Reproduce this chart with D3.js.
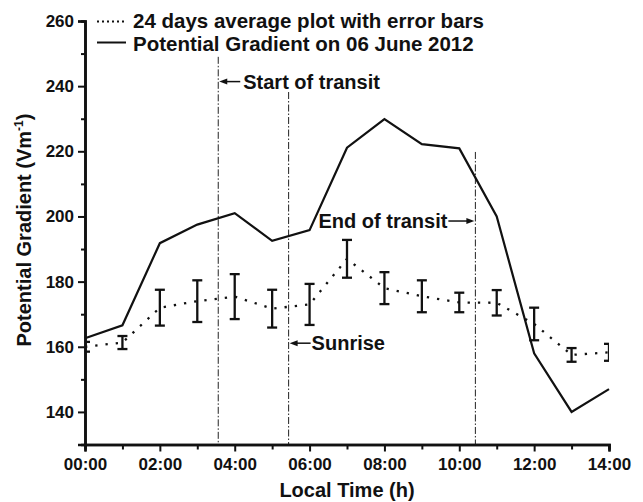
<!DOCTYPE html>
<html>
<head>
<meta charset="utf-8">
<script src="https://cdn.jsdelivr.net/npm/d3@7"></script>
<style>
  body { margin: 0; background: #fff; }
  svg { display: block; font-family: "Liberation Sans", Arial, sans-serif; font-weight: bold; }
</style>
</head>
<body>
<svg id="chart" width="643" height="502"></svg>
<script>
// ---- data ----
const hours = [0,1,2,3,4,5,6,7,8,9,10,11,12,13,14];
const pgJune6 = [162.6,166.6,191.8,197.5,201,192.5,195.8,221.1,229.9,222.2,220.9,200,158,140,147];
const avg24 = [160,161.3,172,174,175.4,171.7,173,187,178,175.5,173.6,173.5,167,157.5,158.3];
const err24 = [1.5,2,5.5,6.4,6.9,5.8,6.3,5.8,4.9,4.9,3,3.9,5,2.1,2.6];
const xTickLabels = ["00:00","02:00","04:00","06:00","08:00","10:00","12:00","14:00"];
const yTicks = [140,160,180,200,220,240,260];
const legendLabels = ["24 days average plot with error bars","Potential Gradient on 06 June 2012"];
const markerNames = ["Start of transit","Sunrise","End of transit"];
const markerHours = [3.56,5.44,10.43];
const markerTops = [249,238.2,219.8];
const markerArrowY = [241.4,161.1,198.6];

// ---- layout ----
const svg = d3.select("#chart");
const x = d3.scaleLinear().domain([0,14]).range([85,609]);
const y = d3.scaleLinear().domain([130,260]).range([444.5,21]);

svg.append("defs").append("clipPath").attr("id","clip")
  .append("rect").attr("x",85).attr("y",0).attr("width",524).attr("height",445);

// vertical marker lines
const g = svg.append("g");
markerHours.forEach((h,i)=>{
  g.append("line")
    .attr("x1",x(h)).attr("x2",x(h))
    .attr("y1",y(markerTops[i])).attr("y2",y(130))
    .attr("stroke","#222").attr("stroke-width",1)
    .attr("stroke-dasharray","7,2,1.5,2");
});

// averaged dotted line
const line = d3.line().x((d,i)=>x(hours[i])).y(d=>y(d));
const plot = svg.append("g").attr("clip-path","url(#clip)");
plot.append("path").datum(avg24).attr("d",line)
  .attr("fill","none").attr("stroke","#111").attr("stroke-width",2.3)
  .attr("stroke-dasharray","2.3,8");

// error bars
const eb = plot.selectAll("g.eb").data(hours).join("g");
eb.append("line")
  .attr("x1",d=>x(d)).attr("x2",d=>x(d))
  .attr("y1",(d,i)=>y(avg24[i]+err24[i])).attr("y2",(d,i)=>y(avg24[i]-err24[i]))
  .attr("stroke","#111").attr("stroke-width",2.3);
[1,-1].forEach(s=>{
  eb.append("line")
    .attr("x1",d=>x(d)-5).attr("x2",d=>x(d)+5)
    .attr("y1",(d,i)=>y(avg24[i]+s*err24[i])).attr("y2",(d,i)=>y(avg24[i]+s*err24[i]))
    .attr("stroke","#111").attr("stroke-width",2.3);
});

// solid line
svg.append("path").datum(pgJune6).attr("d",line)
  .attr("fill","none").attr("stroke","#111").attr("stroke-width",2.2)
  .attr("stroke-linejoin","miter");

// axes
const xAxis = d3.axisBottom(x).tickValues(d3.range(0,15,2)).tickSize(7).tickPadding(6)
  .tickFormat((d,i)=>xTickLabels[i]);
const xMinor = d3.axisBottom(x).tickValues(d3.range(1,14,2)).tickSize(5).tickFormat("");
const yAxis = d3.axisLeft(y).tickValues(yTicks).tickSize(7).tickPadding(4);
const yMinor = d3.axisLeft(y).tickValues(d3.range(130,261,10).filter(v=>v%20!==0)).tickSize(4).tickFormat("");

function styleAxis(sel, size){
  sel.select(".domain").attr("stroke","#111").attr("stroke-width",2.6);
  sel.selectAll(".tick line").attr("stroke","#111").attr("stroke-width",2);
  sel.selectAll(".tick text").attr("fill","#111")
    .style("font-size",size+"px").style("font-weight","bold")
    .style("font-family","'Liberation Sans', Arial, sans-serif");
}
svg.append("g").attr("transform","translate(0,444.5)").call(xMinor).call(s=>styleAxis(s,16));
svg.append("g").attr("transform","translate(0,444.5)").call(xAxis).call(s=>styleAxis(s,17));
svg.append("g").attr("transform","translate(85,0)").call(yMinor).call(s=>styleAxis(s,17));
svg.append("g").attr("transform","translate(85,0)").call(yAxis).call(s=>styleAxis(s,17));

// axis titles
svg.append("text").attr("x",347).attr("y",497).attr("text-anchor","middle")
  .attr("font-size",20).attr("fill","#111").text("Local Time (h)");
const yt = svg.append("text").attr("transform","translate(31,230) rotate(-90)")
  .attr("text-anchor","middle").attr("font-size",20).attr("fill","#111");
yt.append("tspan").text("Potential Gradient (Vm");
yt.append("tspan").attr("dy",-8).attr("font-size",12).text("-1");
yt.append("tspan").attr("dy",8).text(")");

// legend
const leg = svg.append("g");
leg.append("line").attr("x1",97).attr("x2",126).attr("y1",21.5).attr("y2",21.5)
  .attr("stroke","#111").attr("stroke-width",2).attr("stroke-dasharray","2,3");
leg.append("line").attr("x1",97).attr("x2",126).attr("y1",42.5).attr("y2",42.5)
  .attr("stroke","#111").attr("stroke-width",2);
leg.append("text").attr("x",133).attr("y",27.5).attr("font-size",20.5).attr("fill","#111").text(legendLabels[0]);
leg.append("text").attr("x",133).attr("y",50.5).attr("font-size",20.5).attr("fill","#111").text(legendLabels[1]);

// annotations with arrows
function arrow(x1,x2,yy){
  const dir = Math.sign(x2-x1);
  svg.append("line").attr("x1",x1).attr("x2",x2-dir*6).attr("y1",yy).attr("y2",yy)
    .attr("stroke","#111").attr("stroke-width",1.5);
  svg.append("path").attr("d",`M${x2},${yy} L${x2-dir*8},${yy-3} L${x2-dir*8},${yy+3} Z`).attr("fill","#111");
}
// Start of transit
arrow(x(markerHours[0])+22, x(markerHours[0])+1, y(markerArrowY[0]));
svg.append("text").attr("x",x(markerHours[0])+25).attr("y",y(markerArrowY[0])+7)
  .attr("font-size",20).attr("fill","#111").text(markerNames[0]);
// Sunrise
arrow(x(markerHours[1])+22, x(markerHours[1])+1, y(markerArrowY[1]));
svg.append("text").attr("x",x(markerHours[1])+23).attr("y",y(markerArrowY[1])+7)
  .attr("font-size",20).attr("fill","#111").text(markerNames[1]);
// End of transit
arrow(x(markerHours[2])-27, x(markerHours[2])-1, y(markerArrowY[2]));
svg.append("text").attr("x",x(markerHours[2])-28).attr("y",y(markerArrowY[2])+7)
  .attr("text-anchor","end").attr("font-size",20).attr("fill","#111").text(markerNames[2]);
</script>
</body>
</html>
